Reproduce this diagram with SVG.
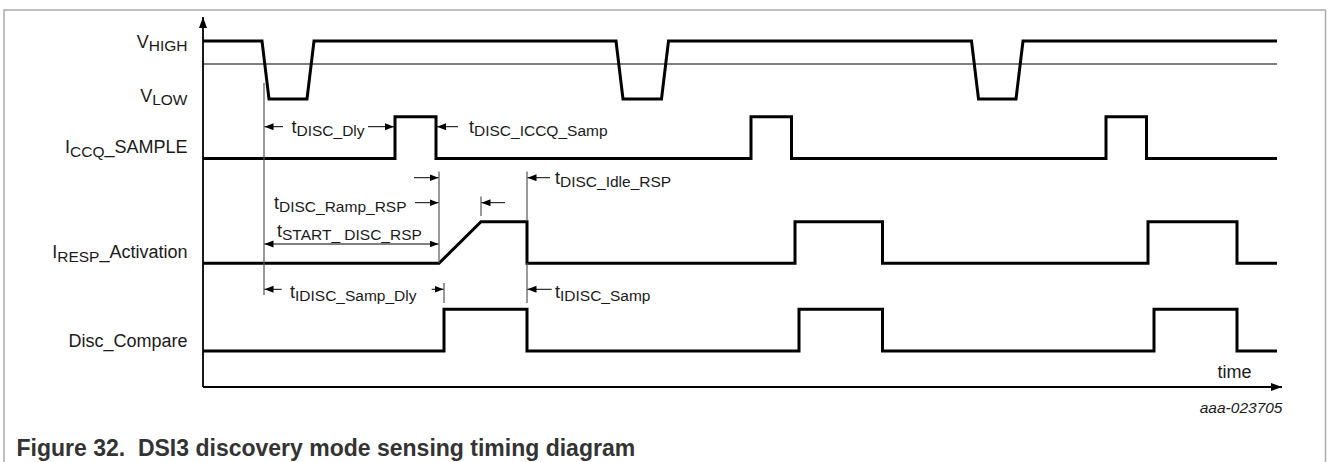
<svg xmlns="http://www.w3.org/2000/svg" width="1328" height="462" viewBox="0 0 1328 462">
<defs>
<style>
text{font-family:"Liberation Sans",Arial,sans-serif;fill:#1a1a1a}
.lbl{font-size:18px}
.sub{font-size:15.5px}
.wave{fill:none;stroke:#000;stroke-width:3;stroke-linejoin:miter}
.dim{fill:none;stroke:#000;stroke-width:1}
.ext{fill:none;stroke:#555;stroke-width:1.2}
.axis{fill:none;stroke:#000;stroke-width:1.8}
.cap{font-size:23px;font-weight:bold;white-space:pre}
</style>
<marker id="ah" markerUnits="userSpaceOnUse" markerWidth="10" markerHeight="8" refX="9" refY="3.5" orient="auto-start-reverse" viewBox="0 0 10 8">
<path d="M0,0 L9,3.5 L0,7 z" fill="#000"/>
</marker>
<marker id="axh" markerUnits="userSpaceOnUse" markerWidth="12" markerHeight="10" refX="11" refY="4" orient="auto" viewBox="0 0 12 10">
<path d="M0,0 L11,4 L0,8 z" fill="#000"/>
</marker>
</defs>
<rect width="1328" height="462" fill="#fff"/>
<path d="M4,462 V10 H1325.5 V462" fill="none" stroke="#aaa" stroke-width="1.5"/>

<g id="axes">
<path class="axis" d="M203,387 V17" marker-end="url(#axh)"/>
<path class="axis" d="M203,387 H1282" marker-end="url(#axh)"/>
<line x1="203" y1="64" x2="1277" y2="64" stroke="#000" stroke-width="1.2"/>
<text class="lbl" x="1217.5" y="377.5">time</text>
</g>

<g id="sig-v">
<text class="lbl" x="187.5" y="48" text-anchor="end">V<tspan class="sub" dy="3">HIGH</tspan></text>
<text class="lbl" x="187.5" y="102" text-anchor="end">V<tspan class="sub" dy="3">LOW</tspan></text>
<path class="wave" d="M203,41 H262 L269,99 H307 L314,41 H616 L623,99 H661.5 L668.5,41 H971.5 L978.5,99 H1016 L1023,41 H1277"/>
</g>

<g id="sig-iccq">
<text class="lbl" x="187.5" y="153" text-anchor="end">I<tspan class="sub" dy="3.5">CCQ</tspan><tspan dy="-3.5">_SAMPLE</tspan></text>
<path class="wave" d="M203,158.5 H395 V116.7 H436 V158.5 H751 V116.7 H791.5 V158.5 H1106 V116.7 H1146.5 V158.5 H1277"/>
</g>

<g id="sig-iresp">
<text class="lbl" x="187.5" y="258" text-anchor="end">I<tspan class="sub" dy="3.5">RESP</tspan><tspan dy="-3.5">_Activation</tspan></text>
<path class="wave" d="M203,263.3 H439 L481,221.7 H527 V263.3 H795 V221.7 H882.5 V263.3 H1148 V221.7 H1237 V263.3 H1277"/>
</g>

<g id="sig-disc">
<text class="lbl" x="187.5" y="347" text-anchor="end">Disc_Compare</text>
<path class="wave" d="M203,351 H444 V309.3 H527 V351 H799 V309.3 H882.5 V351 H1154 V309.3 H1237 V351 H1277"/>
</g>

<g id="connectors">
<line class="ext" x1="264" y1="83" x2="264" y2="295"/>
<line class="ext" x1="439" y1="171.5" x2="439" y2="263"/>
<line class="ext" x1="481" y1="196.5" x2="481" y2="216"/>
<line class="ext" x1="527" y1="171.5" x2="527" y2="221"/>
<line class="ext" x1="527" y1="263" x2="527" y2="303"/>
<line class="ext" x1="444" y1="283" x2="444" y2="303"/>

<line class="dim" x1="283" y1="126.7" x2="264.5" y2="126.7" marker-end="url(#ah)"/>
<line class="dim" x1="368" y1="126.7" x2="394" y2="126.7" marker-end="url(#ah)"/>
<line class="dim" x1="458" y1="126.7" x2="437" y2="126.7" marker-end="url(#ah)"/>
<line class="dim" x1="414" y1="177.7" x2="438.5" y2="177.7" marker-end="url(#ah)"/>
<line class="dim" x1="415" y1="202.7" x2="438.5" y2="202.7" marker-end="url(#ah)"/>
<line class="dim" x1="264.5" y1="244" x2="438.5" y2="244" marker-start="url(#ah)" marker-end="url(#ah)"/>
<line class="dim" x1="505" y1="202.7" x2="481.5" y2="202.7" marker-end="url(#ah)"/>
<line class="dim" x1="550" y1="177.7" x2="527.5" y2="177.7" marker-end="url(#ah)"/>
<line class="dim" x1="281.7" y1="289.3" x2="264.5" y2="289.3" marker-end="url(#ah)"/>
<line class="dim" x1="431.7" y1="289.3" x2="443.5" y2="289.3" marker-end="url(#ah)"/>
<line class="dim" x1="551.7" y1="289.3" x2="527.5" y2="289.3" marker-end="url(#ah)"/>

<text class="lbl" x="291.5" y="132.5">t<tspan class="sub" dy="3">DISC_Dly</tspan></text>
<text class="lbl" x="469" y="132.5">t<tspan class="sub" dy="3">DISC_ICCQ_Samp</tspan></text>
<text class="lbl" x="555" y="183.5">t<tspan class="sub" dy="3">DISC_Idle_RSP</tspan></text>
<text class="lbl" x="274" y="208.5">t<tspan class="sub" dy="3">DISC_Ramp_RSP</tspan></text>
<text class="lbl" x="277" y="236.5">t<tspan class="sub" dy="3">START_ DISC_RSP</tspan></text>
<text class="lbl" x="290" y="298">t<tspan class="sub" dy="3">IDISC_Samp_Dly</tspan></text>
<text class="lbl" x="555" y="298">t<tspan class="sub" dy="3">IDISC_Samp</tspan></text>
</g>

<text x="1282.5" y="413" text-anchor="end" font-size="15.5" font-style="italic">aaa-023705</text>
<text class="cap" x="16.5" y="456" xml:space="preserve" style="fill:#333">Figure 32.  DSI3 discovery mode sensing timing diagram</text>
</svg>
